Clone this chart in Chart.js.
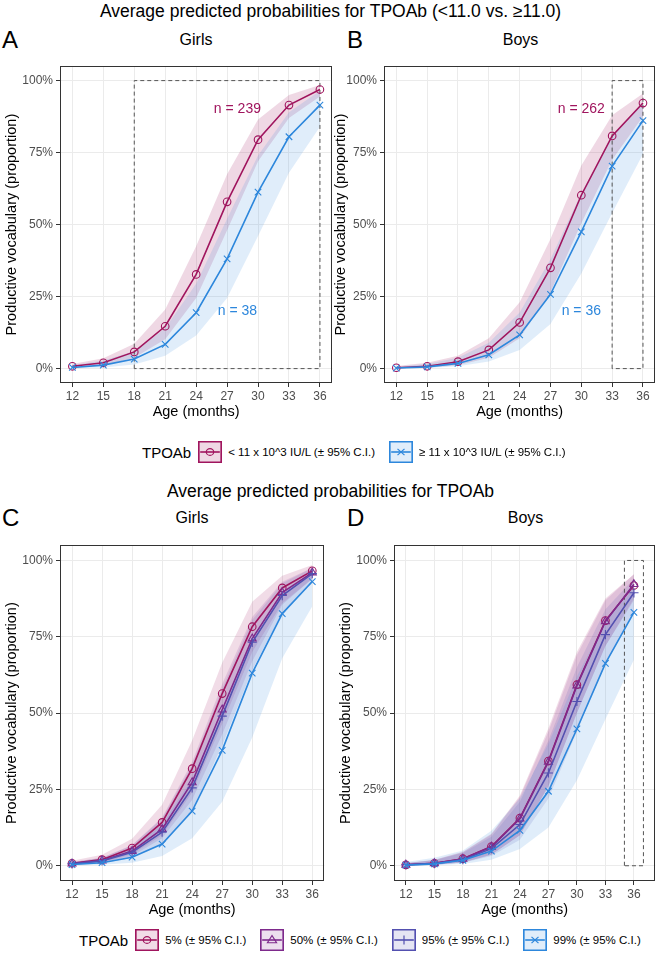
<!DOCTYPE html>
<html>
<head>
<meta charset="utf-8">
<script src="https://cdn.jsdelivr.net/npm/chart.js@4.4.1/dist/chart.umd.min.js"></script>
<style>
    body { margin: 0; background: #fff; font-family: 'Liberation Sans', Arial, sans-serif; }
    #page { position: relative; width: 661px; height: 966px; overflow: hidden; }
    canvas { position: absolute; }
    .txt { position: absolute; white-space: nowrap; color: #000; }
    .mainTitle { font-size: 17.5px; width: 661px; text-align: center; left: 0; }
    .letter { font-size: 24px; }
    .panelTitle { font-size: 16px; text-align: center; }
    .legend { position: absolute; display: flex; align-items: center; white-space: nowrap; }
    .legend .lbl { font-size: 15px; margin-right: 7px; }
    .legend .item { font-size: 11.5px; margin-left: 6px; margin-right: 14px; }
    .legend svg { display: block; }
</style>
</head>
<body>
<div id="page">
    <div class="txt mainTitle" style="top:1px;">Average predicted probabilities for TPOAb (&lt;11.0 vs. ≥11.0)</div>
    <div class="txt letter" style="left:2px; top:26px;">A</div>
    <div class="txt letter" style="left:347px; top:26px;">B</div>
    <div class="txt panelTitle" style="left:60px; width:272px; top:31px;">Girls</div>
    <div class="txt panelTitle" style="left:384px; width:273px; top:31px;">Boys</div>

    <canvas id="chartA" width="338" height="367" style="left:0; top:56px;"></canvas>
    <canvas id="chartB" width="332" height="367" style="left:329px; top:56px;"></canvas>

    <div class="legend" id="legendTop" style="left:142px; top:441px;"></div>

    <div class="txt mainTitle" style="top:481px;">Average predicted probabilities for TPOAb</div>
    <div class="txt letter" style="left:2px; top:504px;">C</div>
    <div class="txt letter" style="left:347px; top:504px;">D</div>
    <div class="txt panelTitle" style="left:60px; width:264px; top:509px;">Girls</div>
    <div class="txt panelTitle" style="left:394px; width:263px; top:509px;">Boys</div>

    <canvas id="chartC" width="330" height="386" style="left:0; top:535px;"></canvas>
    <canvas id="chartD" width="327" height="386" style="left:334px; top:535px;"></canvas>

    <div class="legend" id="legendBottom" style="left:79px; top:929px;"></div>
</div>

<script>
// ages and axis ticks
const ages = [12, 15, 18, 21, 24, 27, 30, 33, 36];
const yTicks = [0, 25, 50, 75, 100];

// Panel A - girls, TPOAb < 11 vs >= 11 (percent)
const girlsLow   = [0.8, 2.0, 5.8, 14.7, 32.7, 57.9, 79.5, 91.5, 96.9];
const girlsLowHi = [1.6, 3.6, 8.6, 20.5, 42.5, 67.5, 86.5, 95.0, 98.5];
const girlsLowLo = [0.4, 1.1, 3.8, 10.2, 24.5, 48.0, 72.0, 87.0, 94.5];
const girlsHigh   = [0.4, 1.2, 3.3, 8.4, 19.4, 38.1, 61.3, 80.5, 91.5];
const girlsHighHi = [1.2, 2.8, 6.0, 14.0, 29.5, 52.0, 74.0, 89.0, 96.5];
const girlsHighLo = [0.1, 0.4, 1.4, 4.5, 11.5, 24.5, 46.0, 68.0, 84.0];

// Panel B - boys
const boysLow   = [0.3, 0.8, 2.4, 6.5, 16.0, 35.0, 60.2, 80.8, 92.2];
const boysLowHi = [0.9, 2.0, 4.5, 10.5, 23.0, 45.0, 70.5, 88.0, 95.5];
const boysLowLo = [0.1, 0.3, 1.2, 3.8, 10.5, 26.5, 50.5, 72.5, 87.5];
const boysHigh   = [0.2, 0.6, 1.8, 4.8, 11.7, 25.8, 47.5, 70.3, 86.1];
const boysHighHi = [0.7, 1.6, 3.8, 9.0, 19.5, 38.0, 61.0, 80.5, 92.5];
const boysHighLo = [0.05, 0.2, 0.8, 2.5, 6.5, 15.5, 33.0, 54.0, 74.5];

// Panel C - girls by TPOAb percentile
const c5    = [0.8, 2.0, 5.8, 14.2, 31.8, 56.4, 78.3, 91.0, 96.6];
const c5Hi  = [1.6, 3.6, 8.8, 20.0, 41.0, 66.5, 86.5, 95.0, 98.5];
const c5Lo  = [0.3, 1.1, 3.8, 10.0, 24.0, 46.5, 70.0, 86.0, 94.0];
const c50   = [0.7, 1.7, 4.8, 12.0, 27.3, 51.1, 74.4, 89.5, 96.0];
const c50Hi = [1.2, 2.6, 6.8, 15.8, 34.0, 59.5, 81.5, 93.0, 97.6];
const c50Lo = [0.3, 1.0, 3.2, 9.0, 21.5, 43.0, 67.0, 85.5, 94.0];
const c95   = [0.6, 1.6, 4.4, 11.0, 25.5, 49.0, 73.2, 88.5, 95.7];
const c95Hi = [1.2, 2.6, 6.6, 15.5, 33.0, 58.0, 80.5, 92.5, 97.5];
const c95Lo = [0.2, 0.8, 2.6, 7.4, 18.0, 39.5, 64.0, 83.0, 93.0];
const c99   = [0.4, 1.0, 2.8, 7.1, 17.9, 37.8, 63.1, 82.6, 93.1];
const c99Hi = [1.0, 2.4, 5.8, 13.5, 28.5, 51.0, 73.5, 89.0, 96.5];
const c99Lo = [0.1, 0.3, 1.0, 3.2, 9.0, 21.0, 42.0, 68.0, 85.0];

// Panel D - boys by TPOAb percentile
const d5    = [0.3, 0.8, 2.3, 6.3, 15.6, 34.3, 59.3, 80.3, 91.8];
const d5Hi  = [0.9, 2.0, 4.6, 10.5, 23.0, 45.0, 70.0, 87.5, 95.5];
const d5Lo  = [0.1, 0.3, 1.1, 3.6, 10.0, 26.0, 50.0, 72.0, 87.0];
const d50   = [0.3, 0.8, 2.2, 6.2, 15.4, 34.0, 59.0, 80.0, 92.2];
const d50Hi = [0.8, 1.9, 4.4, 10.2, 22.5, 44.0, 69.0, 87.0, 95.5];
const d50Lo = [0.1, 0.3, 1.1, 3.6, 10.0, 26.0, 50.0, 72.0, 87.5];
const d95   = [0.3, 0.7, 2.0, 5.6, 13.5, 30.4, 53.8, 75.7, 89.4];
const d95Hi = [0.8, 1.8, 4.2, 9.5, 21.0, 41.0, 65.0, 84.0, 94.0];
const d95Lo = [0.1, 0.3, 1.0, 3.2, 8.5, 22.0, 44.0, 66.0, 83.0];
const d99   = [0.2, 0.6, 1.8, 4.8, 11.6, 24.4, 44.8, 66.3, 83.0];
const d99Hi = [1.2, 2.6, 5.0, 11.5, 22.0, 40.0, 62.0, 80.0, 92.0];
const d99Lo = [0.05, 0.2, 0.6, 2.0, 5.5, 12.5, 28.0, 48.0, 67.5];

// dashed highlight boxes (age, percent corners)
const boxAx = [18, 18, 36, 36, 18];
const boxAy = [0, 100, 100, 0, 0];
const boxBx = [33, 33, 36, 36, 33];
const boxBy = [0, 100, 100, 0, 0];
const boxDx = [35, 35, 37, 37, 35];
const boxDy = [0, 100, 100, 0, 0];

// sample size labels
const nLabelsA = [{ x: 28, y: 90, text: "n = 239", who: "low" }, { x: 28, y: 20, text: "n = 38", who: "high" }];
const nLabelsB = [{ x: 30, y: 90, text: "n = 262", who: "low" }, { x: 30, y: 20, text: "n = 36", who: "high" }];

const colors = {
    low: "#A0155E", high: "#2D87DC",
    p5: "#A0155E", p50: "#7E2A8C", p95: "#5350B0", p99: "#2D87DC"
};
const fills = {
    low: "rgba(160,21,94,0.17)", high: "rgba(45,135,220,0.15)",
    p5: "rgba(160,21,94,0.15)", p50: "rgba(126,42,140,0.15)", p95: "rgba(83,80,176,0.15)", p99: "rgba(45,135,220,0.15)"
};

Chart.defaults.font.family = "'Liberation Sans', Arial, sans-serif";

const toPoints = (xs, ys) => xs.map((x, i) => ({ x: x, y: ys[i] }));

const panelPlugin = {
    id: "panelExtras",
    afterDatasetsDraw(chart) {
        const { ctx, chartArea: a } = chart;
        const opts = chart.options.plugins.panelExtras || {};
        ctx.save();
        (opts.labels || []).forEach(l => {
            ctx.fillStyle = colors[l.who];
            ctx.font = "14px 'Liberation Sans', Arial, sans-serif";
            ctx.textAlign = "center";
            ctx.textBaseline = "middle";
            ctx.fillText(l.text, chart.scales.x.getPixelForValue(l.x), chart.scales.y.getPixelForValue(l.y));
        });
        ctx.strokeStyle = "#333";
        ctx.lineWidth = 1;
        ctx.strokeRect(Math.round(a.left) + 0.5, Math.round(a.top) + 0.5,
            Math.round(a.right - a.left) - 1, Math.round(a.bottom - a.top) - 1);
        ctx.restore();
    }
};

function crearPanel(id, series, box, xMin, xMax, yWidth, labels) {
    const datasets = [];
    // lines + markers on top
    series.forEach(s => {
        datasets.push({
            data: toPoints(ages, s.mid),
            borderColor: colors[s.key],
            borderWidth: 1.6,
            pointStyle: s.marker,
            pointRadius: s.marker === "circle" ? 3.8 : 4.6,
            pointBorderColor: colors[s.key],
            pointBackgroundColor: "rgba(0,0,0,0)",
            pointBorderWidth: 1.1,
            fill: false,
            order: 0
        });
    });
    if (box) {
        datasets.push({
            data: toPoints(box.x, box.y),
            borderColor: "#555",
            borderWidth: 1,
            borderDash: [4, 3],
            pointRadius: 0,
            fill: false,
            order: 1
        });
    }
    // ribbons
    series.forEach(s => {
        const loIdx = datasets.length + 1;
        datasets.push({
            data: toPoints(ages, s.hi),
            borderWidth: 0,
            pointRadius: 0,
            backgroundColor: fills[s.key],
            fill: loIdx,
            order: 2
        });
        datasets.push({
            data: toPoints(ages, s.lo),
            borderWidth: 0,
            pointRadius: 0,
            fill: false,
            order: 2
        });
    });

    return new Chart(document.getElementById(id), {
        type: "line",
        data: { datasets: datasets },
        plugins: [panelPlugin],
        options: {
            responsive: false,
            animation: false,
            layout: { padding: { top: 5, right: 5, left: 0, bottom: 0 } },
            plugins: {
                legend: { display: false },
                tooltip: { enabled: false },
                panelExtras: { labels: labels }
            },
            scales: {
                x: {
                    type: "linear",
                    min: xMin,
                    max: xMax,
                    afterBuildTicks: axis => { axis.ticks = ages.map(v => ({ value: v })); },
                    afterFit: axis => { axis.height = 40; },
                    grid: { color: "#EBEBEB", lineWidth: 1, tickLength: 4, tickColor: "#333" },
                    border: { display: false },
                    ticks: { color: "#4D4D4D", font: { size: 12 }, padding: 2, maxRotation: 0 },
                    title: { display: true, text: "Age (months)", color: "#000", font: { size: 14.5 }, padding: { top: 0, bottom: 2 } }
                },
                y: {
                    min: -5,
                    max: 105,
                    afterBuildTicks: axis => { axis.ticks = yTicks.map(v => ({ value: v })); },
                    afterFit: axis => { axis.width = yWidth; },
                    grid: { color: "#EBEBEB", lineWidth: 1, tickLength: 4, tickColor: "#333" },
                    border: { display: false },
                    ticks: { color: "#4D4D4D", font: { size: 12 }, padding: 3, callback: v => v + "%" },
                    title: { display: true, text: "Productive vocabulary (proportion)", color: "#000", font: { size: 14.5 }, padding: { top: 3, bottom: 0 } }
                }
            }
        }
    });
}

const chartA = crearPanel("chartA", [
    { key: "high", mid: girlsHigh, hi: girlsHighHi, lo: girlsHighLo, marker: "crossRot" },
    { key: "low", mid: girlsLow, hi: girlsLowHi, lo: girlsLowLo, marker: "circle" }
], { x: boxAx, y: boxAy }, 10.8, 37.2, 60, nLabelsA);

const chartB = crearPanel("chartB", [
    { key: "high", mid: boysHigh, hi: boysHighHi, lo: boysHighLo, marker: "crossRot" },
    { key: "low", mid: boysLow, hi: boysLowHi, lo: boysLowLo, marker: "circle" }
], { x: boxBx, y: boxBy }, 10.8, 37.2, 55, nLabelsB);

const chartC = crearPanel("chartC", [
    { key: "p99", mid: c99, hi: c99Hi, lo: c99Lo, marker: "crossRot" },
    { key: "p95", mid: c95, hi: c95Hi, lo: c95Lo, marker: "cross" },
    { key: "p50", mid: c50, hi: c50Hi, lo: c50Lo, marker: "triangle" },
    { key: "p5", mid: c5, hi: c5Hi, lo: c5Lo, marker: "circle" }
], null, 10.8, 37.2, 60, []);

const chartD = crearPanel("chartD", [
    { key: "p99", mid: d99, hi: d99Hi, lo: d99Lo, marker: "crossRot" },
    { key: "p95", mid: d95, hi: d95Hi, lo: d95Lo, marker: "cross" },
    { key: "p50", mid: d50, hi: d50Hi, lo: d50Lo, marker: "triangle" },
    { key: "p5", mid: d5, hi: d5Hi, lo: d5Lo, marker: "circle" }
], { x: boxDx, y: boxDy }, 10.75, 38.25, 60, []);

// legends
function keySvg(key, marker) {
    const c = colors[key];
    let m = "";
    if (marker === "circle") m = `<circle cx="11" cy="11" r="3.4" fill="none" stroke="${c}" stroke-width="1.1"/>`;
    if (marker === "triangle") m = `<polygon points="11,6.5 15.2,13.8 6.8,13.8" fill="none" stroke="${c}" stroke-width="1.1"/>`;
    if (marker === "cross") m = `<path d="M11 6.5V15.5" stroke="${c}" stroke-width="1.1"/>`;
    if (marker === "crossRot") m = `<path d="M7.8 7.8L14.2 14.2M14.2 7.8L7.8 14.2" stroke="${c}" stroke-width="1.1"/>`;
    return `<svg width="24" height="22" viewBox="0 0 22 22" preserveAspectRatio="none">
        <rect x="0.75" y="0.75" width="20.5" height="20.5" fill="${fills[key]}" stroke="${c}" stroke-width="1.5"/>
        <path d="M2 11H20" stroke="${c}" stroke-width="1.6"/>${m}</svg>`;
}

function armarLeyenda(id, items) {
    let html = `<span class="lbl">TPOAb</span>`;
    items.forEach(i => {
        html += keySvg(i.key, i.marker) + `<span class="item">${i.text}</span>`;
    });
    document.getElementById(id).innerHTML = html;
}

armarLeyenda("legendTop", [
    { key: "low", marker: "circle", text: "&lt; 11 x 10^3 IU/L (± 95% C.I.)" },
    { key: "high", marker: "crossRot", text: "≥ 11 x 10^3 IU/L (± 95% C.I.)" }
]);
armarLeyenda("legendBottom", [
    { key: "p5", marker: "circle", text: "5% (± 95% C.I.)" },
    { key: "p50", marker: "triangle", text: "50% (± 95% C.I.)" },
    { key: "p95", marker: "cross", text: "95% (± 95% C.I.)" },
    { key: "p99", marker: "crossRot", text: "99% (± 95% C.I.)" }
]);
</script>
</body>
</html>
